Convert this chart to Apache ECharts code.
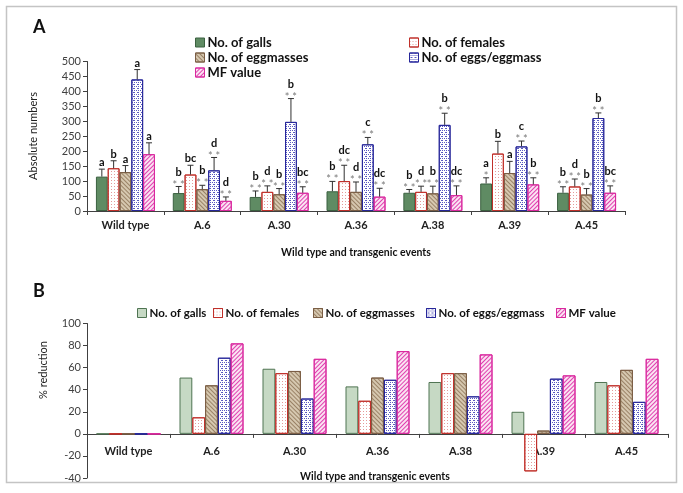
<!DOCTYPE html>
<html>
<head>
<meta charset="utf-8">
<script src="https://cdn.jsdelivr.net/npm/echarts@6/dist/echarts.min.js"></script>
<style>html,body{margin:0;padding:0;background:#fff;}#c{width:683px;height:493px;}</style>
</head>
<body>
<div id="c"></div>
<script>
// ---------- data ----------
const categories = ['Wild type', 'A.6', 'A.30', 'A.36', 'A.38', 'A.39', 'A.45'];
const seriesNames = ['No. of galls', 'No. of females', 'No. of eggmasses', 'No. of eggs/eggmass', 'MF value'];

// Panel A: absolute numbers
const galls      = [115, 60, 47, 66, 61, 92, 61];
const females    = [143, 122, 64, 100, 64, 192, 82];
const eggmasses  = [130, 73, 56, 64, 59, 127, 55];
const eggs       = [440, 136, 298, 223, 288, 216, 311];
const mfValue    = [190, 34, 61, 48, 53, 89, 61];

const gallsErr     = [25, 22, 20, 33, 11, 19, 20];
const femalesErr   = [25, 31, 20, 53, 19, 41, 25];
const eggmassesErr = [22, 13, 19, 33, 24, 39, 20];
const eggsErr      = [33, 43, 78, 23, 39, 18, 17];
const mfErr        = [38, 13, 20, 28, 31, 22, 23];

const gallsLet     = ['a', 'b', 'b', 'b', 'b', 'a', 'b'];
const femalesLet   = ['b', 'bc', 'd', 'dc', 'd', 'b', 'd'];
const eggmassesLet = ['a', 'b', 'b', 'd', 'b', 'a', 'b'];
const eggsLet      = ['a', 'd', 'b', 'c', 'b', 'c', 'b'];
const mfLet        = ['a', 'd', 'bc', 'dc', 'dc', 'b', 'bc'];

const gallsStar     = ['', '**', '**', '**', '**', '*', '**'];
const femalesStar   = ['', '', '**', '**', '**', '', '**'];
const eggmassesStar = ['', '**', '**', '**', '**', '', '**'];
const eggsStar      = ['', '**', '**', '**', '**', '**', '**'];
const mfStar        = ['', '**', '**', '**', '**', '**', '**'];

// Panel B: % reduction
const redGalls     = [0, 51, 59, 43, 47, 20, 47];
const redFemales   = [0, 15, 55, 30, 55, -34, 44];
const redEggmasses = [0, 44, 57, 51, 55, 3, 58];
const redEggs      = [0, 69, 32, 49, 34, 50, 29];
const redMf        = [0, 82, 68, 75, 72, 53, 68];

const topTicks = [0, 50, 100, 150, 200, 250, 300, 350, 400, 450, 500];
const botTicks = [-40, -20, 0, 20, 40, 60, 80, 100];

// ---------- styles ----------
const FONT = 'Lato, "Liberation Sans", sans-serif';
const AX = '#404040';
const BW_TOP = 11.8, BW_BOT = 12.8;

const styleTop = [
  {color: '#5f8b63', borderColor: '#3b6140', borderWidth: 1},
  {color: '#ffffff', borderColor: '#c0302a', borderWidth: 1,
   decal: {symbol: 'rect', symbolSize: 1, dashArrayX: [1, 2], dashArrayY: [1, 2], color: '#e59a9a'}},
  {color: '#d6c8b0', borderColor: '#7b5e45', borderWidth: 1,
   decal: {symbol: 'rect', symbolSize: 1, dashArrayX: [1, 0], dashArrayY: [1, 2], rotation: Math.PI / 4, color: '#9a8266'}},
  {color: '#ffffff', borderColor: '#27279a', borderWidth: 1,
   decal: {symbol: 'rect', symbolSize: 1, dashArrayX: [[1, 1], [0, 1, 1]], dashArrayY: [1, 1], color: '#5a5ac0'}},
  {color: '#fbe3f2', borderColor: '#d9299e', borderWidth: 1,
   decal: {symbol: 'rect', symbolSize: 1, dashArrayX: [1, 0], dashArrayY: [1, 2], rotation: -Math.PI / 4, color: '#e040b0'}}
];
const styleBot = styleTop.map((s, i) => i === 0 ? {color: '#c6d9c4', borderColor: '#4f7452', borderWidth: 1} : s);

const topVals = [galls, females, eggmasses, eggs, mfValue];
const topErrs = [gallsErr, femalesErr, eggmassesErr, eggsErr, mfErr];
const topLets = [gallsLet, femalesLet, eggmassesLet, eggsLet, mfLet];
const topStars = [gallsStar, femalesStar, eggmassesStar, eggsStar, mfStar];
const botVals = [redGalls, redFemales, redEggmasses, redEggs, redMf];

const series = [];
topVals.forEach((vals, k) => {
  series.push({
    name: seriesNames[k], type: 'bar', xAxisIndex: 0, yAxisIndex: 0,
    barWidth: BW_TOP, barGap: '0%', data: vals, itemStyle: styleTop[k], silent: true
  });
});
topVals.forEach((vals, k) => {
  series.push({
    type: 'custom', xAxisIndex: 0, yAxisIndex: 0, silent: true, clip: false, z: 5,
    data: vals.map((v, j) => [j, v, topErrs[k][j]]),
    encode: {x: 0, y: 1},
    renderItem: function (params, api) {
      const j = params.dataIndex;
      const ci = api.value(0), v = api.value(1), e = api.value(2);
      const base = api.coord([ci, v]);
      const tip = api.coord([ci, v + e]);
      const x = base[0] + (k - 2) * BW_TOP;
      const st = topStars[k][j];
      const children = [
        {type: 'line', shape: {x1: x, y1: base[1], x2: x, y2: tip[1]}, style: {stroke: '#303030', lineWidth: 1}},
        {type: 'line', shape: {x1: x - 3, y1: tip[1], x2: x + 3, y2: tip[1]}, style: {stroke: '#303030', lineWidth: 1}}
      ];
      let ty = tip[1] - 1;
      if (st) {
        children.push({type: 'text', style: {text: st.split('').join(' '), x: x, y: ty + 5, textAlign: 'center', textVerticalAlign: 'bottom',
          fill: '#7a7a7a', font: '11px ' + FONT}});
        ty -= 8;
      }
      children.push({type: 'text', style: {text: topLets[k][j], x: x, y: ty, textAlign: 'center', textVerticalAlign: 'bottom',
        fill: '#111', font: 'bold 11px ' + FONT}});
      return {type: 'group', children: children};
    }
  });
});
botVals.forEach((vals, k) => {
  series.push({
    name: seriesNames[k], type: 'bar', xAxisIndex: 1, yAxisIndex: 1,
    barWidth: BW_BOT, barGap: '0%', data: vals, itemStyle: styleBot[k], silent: true
  });
});

function legendItem(k, left, top, st, fs) {
  return {
    data: [{name: seriesNames[k], itemStyle: st, icon: 'rect'}],
    left: left, top: top, itemWidth: 9, itemHeight: 9, padding: 0, selectedMode: false,
    textStyle: {fontFamily: FONT, fontWeight: 'bold', fontSize: fs, color: '#111', padding: [0, 0, 0, -2]}
  };
}
const legends = [
  legendItem(0, 195, 36, styleTop[0], 13),
  legendItem(1, 409, 36, styleTop[1], 13),
  legendItem(2, 195, 51, styleTop[2], 13),
  legendItem(3, 409, 51, styleTop[3], 13),
  legendItem(4, 195, 66, styleTop[4], 13),
  legendItem(0, 137, 307, styleBot[0], 11.5),
  legendItem(1, 213, 307, styleBot[1], 11.5),
  legendItem(2, 313, 307, styleBot[2], 11.5),
  legendItem(3, 426, 307, styleBot[3], 11.5),
  legendItem(4, 556, 307, styleBot[4], 11.5)
];

const chart = echarts.init(document.getElementById('c'), null, {renderer: 'canvas'});
chart.setOption({
  animation: false,
  backgroundColor: '#fff',
  legend: legends,
  grid: [
    {left: 87, right: 58, top: 61.5, bottom: 282, containLabel: false, outerBoundsMode: 'none'},
    {left: 87, right: 15, top: 323.5, bottom: 15, containLabel: false, outerBoundsMode: 'none'}
  ],
  xAxis: [
    {type: 'category', gridIndex: 0, data: categories,
     axisLine: {lineStyle: {color: AX}}, axisTick: {show: true, length: 4, lineStyle: {color: AX}},
     axisLabel: {fontFamily: FONT, fontWeight: 'bold', fontSize: 11, color: '#222', margin: 9}},
    {type: 'category', gridIndex: 1, data: categories, offset: -44.1,
     axisLine: {onZero: false, lineStyle: {color: AX}}, axisTick: {show: true, length: 4, lineStyle: {color: AX}},
     axisLabel: {fontFamily: FONT, fontWeight: 'bold', fontSize: 11, color: '#222', margin: 12}}
  ],
  yAxis: [
    {type: 'value', gridIndex: 0, min: topTicks[0], max: topTicks[topTicks.length - 1], interval: 50,
     axisLine: {show: true, lineStyle: {color: AX}}, axisTick: {show: true, length: 4, lineStyle: {color: AX}},
     splitLine: {show: false}, axisLabel: {fontFamily: FONT, fontSize: 11, color: '#404040', margin: 6}},
    {type: 'value', gridIndex: 1, min: botTicks[0], max: botTicks[botTicks.length - 1], interval: 20,
     axisLine: {show: true, lineStyle: {color: AX}}, axisTick: {show: true, length: 4, lineStyle: {color: AX}},
     splitLine: {show: false}, axisLabel: {fontFamily: FONT, fontSize: 11, color: '#404040', margin: 6}}
  ],
  graphic: [
    {type: 'rect', shape: {x: 6.5, y: 6.5, width: 670, height: 476}, style: {fill: 'none', stroke: '#c4c4c4', lineWidth: 1.5}, silent: true},
    {type: 'text', x: 33, y: 27, style: {text: 'A', font: 'bold 18px ' + FONT, fill: '#111', textAlign: 'left', textVerticalAlign: 'middle'}},
    {type: 'text', x: 33, y: 291, style: {text: 'B', font: 'bold 18px ' + FONT, fill: '#111', textAlign: 'left', textVerticalAlign: 'middle'}},
    {type: 'text', x: 33, y: 136, rotation: Math.PI / 2, style: {text: 'Absolute numbers', font: '11px ' + FONT, fill: '#222', textAlign: 'center', textVerticalAlign: 'middle'}},
    {type: 'text', x: 43, y: 370, rotation: Math.PI / 2, style: {text: '% reduction', font: '11px ' + FONT, fill: '#222', textAlign: 'center', textVerticalAlign: 'middle'}},
    {type: 'text', x: 356, y: 253, style: {text: 'Wild type and transgenic events', font: 'bold 10.5px ' + FONT, fill: '#111', textAlign: 'center', textVerticalAlign: 'middle'}},
    {type: 'text', x: 375, y: 477, style: {text: 'Wild type and transgenic events', font: 'bold 10.5px ' + FONT, fill: '#111', textAlign: 'center', textVerticalAlign: 'middle'}}
  ],
  series: series
});
</script>
</body>
</html>
